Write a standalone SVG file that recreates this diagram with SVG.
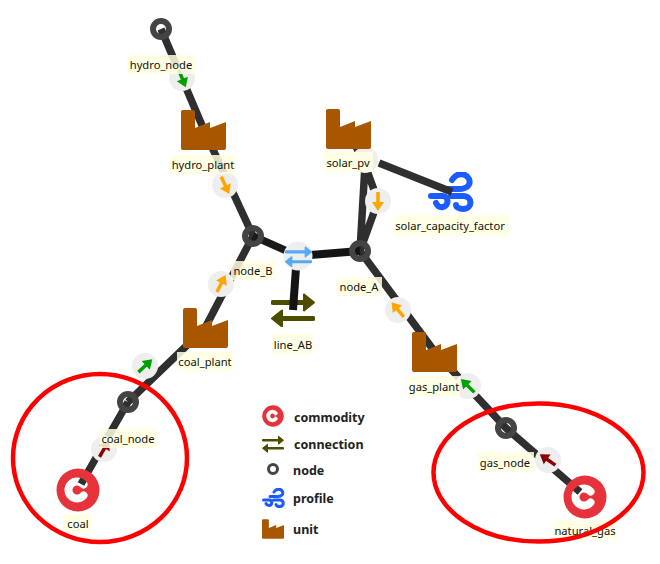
<svg xmlns="http://www.w3.org/2000/svg" width="660" height="564" viewBox="0 0 660 564">
<style>
text{font-family:"Noto Sans","Liberation Sans",sans-serif;font-size:11.200px;fill:#111;text-anchor:middle}
text.leg{font-weight:700;font-size:12.500px;fill:#222;text-anchor:start}
.lb{fill:#ffffe0;fill-opacity:.85}
.e{fill:none;stroke:#2f2f2f;stroke-width:7.500}
.k{fill:none;stroke:#141414;stroke-width:8}
.b{fill:#eee}
.ring{fill:none;stroke:#444;stroke-width:6}
.an{fill:none;stroke:#f00;stroke-width:4.500}
.o{color:#ffa500}.g{color:#00a000}.r{color:#8b0000}
</style>
<defs>
<symbol id="factory" viewBox="0 0 45 40"><path fill="#a85700" d="M2 0H12Q14 0 14 2V18L29 12V18L45 12V38Q45 40 43 40H2Q0 40 0 38V2Q0 0 2 0Z"/></symbol>
<symbol id="cc" viewBox="-22 -22 44 44"><path fill="#e5323b" fill-rule="evenodd" d="M-21.500 0A21.500 21.500 0 1 1 21.500 0A21.500 21.500 0 1 1 -21.500 0ZM8.600 -8A12.500 12.500 0 1 0 8.600 8A4 4 0 0 0 2.400 2.900A4.500 4.500 0 1 1 2.400 -2.900A4 4 0 0 0 8.600 -8Z"/></symbol>
<symbol id="conn" viewBox="0 0 44 34"><g fill="currentColor" stroke="currentColor" stroke-linejoin="round"><path fill="none" stroke-width="5" stroke-linecap="round" d="M2 9.500H36M42 25.500H8"/><path stroke-width="2" d="M33 1.500L43 9.500L33 17.500ZM11 17.500L1 25.500L11 33.500Z"/></g></symbol>
<symbol id="wind" viewBox="428 172 46 40"><g fill="none" stroke="#1a5cff" stroke-width="6" stroke-linecap="round"><path d="M444 189H459C468 189 471 184 469 179C466 173 457 172 452 180"/><path d="M431 196H443C449 196 449 206 443 207C439 208 437 205 436 203"/><path d="M451 196H463C473 196 473 209 463 209C459 209 456 207 456 205"/></g></symbol>
<symbol id="arr" viewBox="-10 -7 20 14" overflow="visible"><path fill="none" stroke="currentColor" stroke-width="3.500" d="M-9 0H4"/><path fill="currentColor" d="M1 -6L10 0L1 6Z"/></symbol>
</defs>

<g id="line_AB"><use href="#conn" x="271" y="293" width="44" height="34" color="#4d4d00"/><rect class="lb" x="272" y="334" width="42" height="20"/><text x="293" y="349">line_AB</text></g>
<g id="solar_capacity_factor"><use href="#wind" x="428" y="172" width="46" height="40"/><rect class="lb" x="393" y="215" width="116" height="21"/><text x="450" y="230">solar_capacity_factor</text></g>

<g id="connectors">
<path class="e" d="M161 29L204 130M204 130L253 236M205 328L253 236M205 328L128 402M128 402L81 484"/>
<path class="e" d="M365 165L360 251M365 165L378 201L360 251M348 130L365 165M379 163L452 192"/>
<path class="e" d="M360 251L435 352L506 428L580 492"/>
<path class="e" style="stroke:#1a1a1a" d="M253 236L298 256"/>
<path class="k" d="M298 256L360 251M296 268L293 310"/>
<circle class="b" cx="182" cy="78" r="13"/><use class="g" href="#arr" transform="translate(182 78) rotate(68) translate(-10 -7)" width="20" height="14"/>
<circle class="b" cx="225" cy="185" r="13"/><use class="o" href="#arr" transform="translate(225 185) rotate(65) translate(-10 -7)" width="20" height="14"/>
<circle class="b" cx="221" cy="284" r="13"/><use class="o" href="#arr" transform="translate(221 284) rotate(-63) translate(-10 -7)" width="20" height="14"/>
<circle class="b" cx="145" cy="366" r="13"/><use class="g" href="#arr" transform="translate(145 366) rotate(-43) translate(-10 -7)" width="20" height="14"/>
<circle class="b" cx="104" cy="449" r="13"/><use class="r" href="#arr" transform="translate(104 449) rotate(-60) translate(-10 -7)" width="20" height="14"/>
<circle class="b" cx="365" cy="160" r="13"/>
<circle class="b" cx="378" cy="201" r="13"/><use class="o" href="#arr" transform="translate(378 201) rotate(90) translate(-10 -7)" width="20" height="14"/>
<circle class="b" cx="398" cy="310" r="13"/><use class="o" href="#arr" transform="translate(398 310) rotate(-130) translate(-10 -7)" width="20" height="14"/>
<circle class="b" cx="468" cy="386" r="13"/><use class="g" href="#arr" transform="translate(468 386) rotate(-135) translate(-10 -7)" width="20" height="14"/>
<circle class="b" cx="548" cy="460" r="13"/><use class="r" href="#arr" transform="translate(548 460) rotate(-145) translate(-10 -7)" width="20" height="14"/>
<circle class="b" cx="298" cy="256" r="14.500"/><use href="#conn" x="285" y="246" width="27" height="21" color="#55a8f5"/>
</g>

<g id="hydro_node"><circle class="ring" cx="161" cy="29" r="8"/><rect class="lb" x="127" y="55" width="68" height="19"/><text x="161" y="69">hydro_node</text></g>
<g id="hydro_plant"><use href="#factory" x="181" y="110" width="45" height="40"/><rect class="lb" x="170" y="155" width="66" height="19"/><text x="203" y="169">hydro_plant</text></g>
<g id="node_B"><circle class="ring" cx="253" cy="236" r="8"/><rect class="lb" x="231" y="261" width="45" height="19"/><text x="253" y="275">node_B</text></g>
<g id="node_A"><circle class="ring" cx="360" cy="251" r="8"/><rect class="lb" x="337" y="277" width="45" height="19"/><text x="359" y="291">node_A</text></g>
<g id="coal_plant"><use href="#factory" x="183" y="308" width="45" height="40"/><rect class="lb" x="177" y="352" width="56" height="19"/><text x="205" y="366">coal_plant</text></g>
<g id="coal_node"><circle class="ring" cx="128" cy="402" r="8"/><rect class="lb" x="100" y="429" width="57" height="19"/><text x="128" y="443">coal_node</text></g>
<g id="coal"><use href="#cc" x="56" y="468" width="44" height="44"/><rect class="lb" x="64" y="514" width="27" height="19"/><text x="78" y="528">coal</text></g>
<g id="solar_pv"><use href="#factory" x="326" y="109" width="45" height="40"/><rect class="lb" x="324" y="152" width="49" height="20"/><text x="348" y="167">solar_pv</text></g>
<g id="gas_plant"><use href="#factory" x="412" y="332" width="45" height="40"/><rect class="lb" x="407" y="376" width="53" height="20"/><text x="434" y="391">gas_plant</text></g>
<g id="gas_node"><circle class="ring" cx="506" cy="428" r="8"/><rect class="lb" x="477" y="452" width="57" height="20"/><text x="505" y="467">gas_node</text></g>
<g id="natural_gas"><use href="#cc" x="563" y="475" width="44" height="44"/><rect class="lb" x="553" y="520" width="65" height="20"/><text x="585" y="535">natural_gas</text></g>

<g id="legend">
<use href="#cc" x="262" y="405" width="22" height="22"/><text class="leg" x="294" y="422">commodity</text>
<use href="#conn" x="262" y="435" width="22" height="18" color="#4d4d00"/><text class="leg" x="294" y="449">connection</text>
<circle cx="273" cy="469" r="4.500" fill="none" stroke="#444" stroke-width="3"/><text class="leg" x="293" y="475">node</text>
<use href="#wind" x="262" y="488" width="23" height="20"/><text class="leg" x="293" y="503">profile</text>
<use href="#factory" x="262" y="519" width="22" height="20"/><text class="leg" x="293" y="534">unit</text>
</g>

<g id="annotations">
<ellipse class="an" cx="100" cy="458" rx="87" ry="84"/>
<ellipse class="an" cx="538.500" cy="472.500" rx="105" ry="69"/>
</g>
</svg>
